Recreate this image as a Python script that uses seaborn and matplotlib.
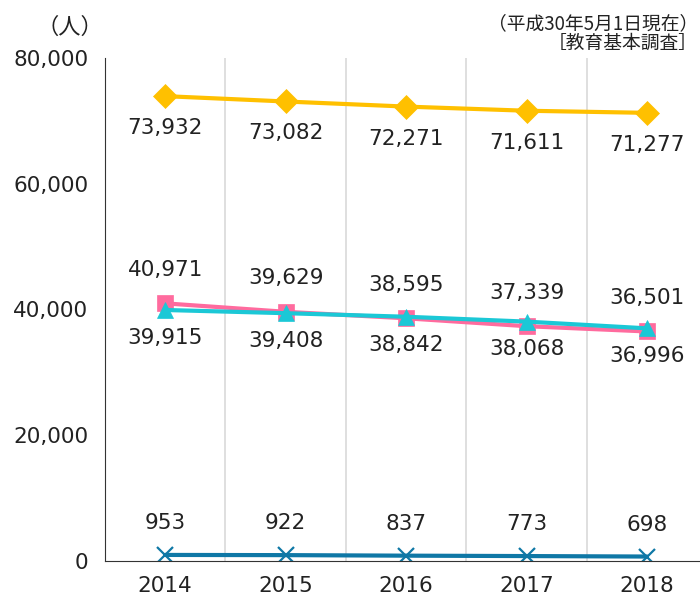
import pandas as pd
import numpy as np
import matplotlib.pyplot as plt
import seaborn as sns

years = ['2014', '2015', '2016', '2017', '2018']
s_yellow = [73932, 73082, 72271, 71611, 71277]
s_pink = [40971, 39629, 38595, 37339, 36501]
s_cyan = [39915, 39408, 38842, 38068, 36996]
s_blue = [953, 922, 837, 773, 698]

sns.set_style('white')
plt.rcParams['font.family'] = ['DejaVu Sans', 'Noto Sans CJK JP']
jp = ['Noto Sans CJK JP', 'DejaVu Sans']

fig = plt.figure(figsize=(7, 5.98), dpi=100)
ax = fig.add_axes([0.15, 0.062, 0.85, 0.841])

x = np.arange(len(years))
# values, colour, marker, label offset (pt)
series = [
    (s_yellow, '#FFC000', 'D', 12, -23),
    (s_pink, '#FF6B9E', 's', 11, 24),
    (s_cyan, '#1BC8D6', '^', 11, -20),
    (s_blue, '#0F78A6', 'x', 11, 23),
]
for vals, col, mk, ms, off in series:
    df = pd.DataFrame({'x': x, 'y': vals})
    sns.lineplot(data=df, x='x', y='y', ax=ax, color=col, linewidth=3,
                 marker=mk, markersize=ms, markeredgecolor=col,
                 markeredgewidth=1.6 if mk == 'x' else 0.5)
    for xi, v in zip(x, vals):
        ax.annotate(f'{v:,}', (xi, v), xytext=(0, off), textcoords='offset points',
                    ha='center', va='center', fontsize=15.5, color='#222222')

ax.set_xlim(-0.5, 4.44)
ax.set_ylim(0, 80000)
ax.set_yticks(range(0, 80001, 20000))
ax.set_yticklabels([f'{t:,}' for t in range(0, 80001, 20000)], fontsize=15.5)
ax.set_xticks(x)
ax.set_xticklabels(years, fontsize=15.5)
ax.set_xlabel('')
ax.set_ylabel('')
for b in np.arange(0.5, 4.6, 1):
    ax.axvline(b, color='#D9D9D9', linewidth=1.2, zorder=0)
for s in ['top', 'right']:
    ax.spines[s].set_visible(False)
ax.spines['left'].set_color('#333333')
ax.spines['bottom'].set_color('#333333')
ax.tick_params(axis='y', length=0, pad=12, colors='#222222')
ax.tick_params(axis='x', length=0, pad=11, colors='#222222')

fig.text(0.10, 0.955, '（人）', fontsize=16, ha='center', va='center', color='#222222', family=jp)
fig.text(0.997, 0.961, '（平成30年5月1日現在）', fontsize=13.5, ha='right', va='center', color='#222222', family=jp)
fig.text(0.997, 0.928, '［教育基本調査］', fontsize=13.5, ha='right', va='center', color='#222222', family=jp)

plt.savefig('out.png', dpi=100)
